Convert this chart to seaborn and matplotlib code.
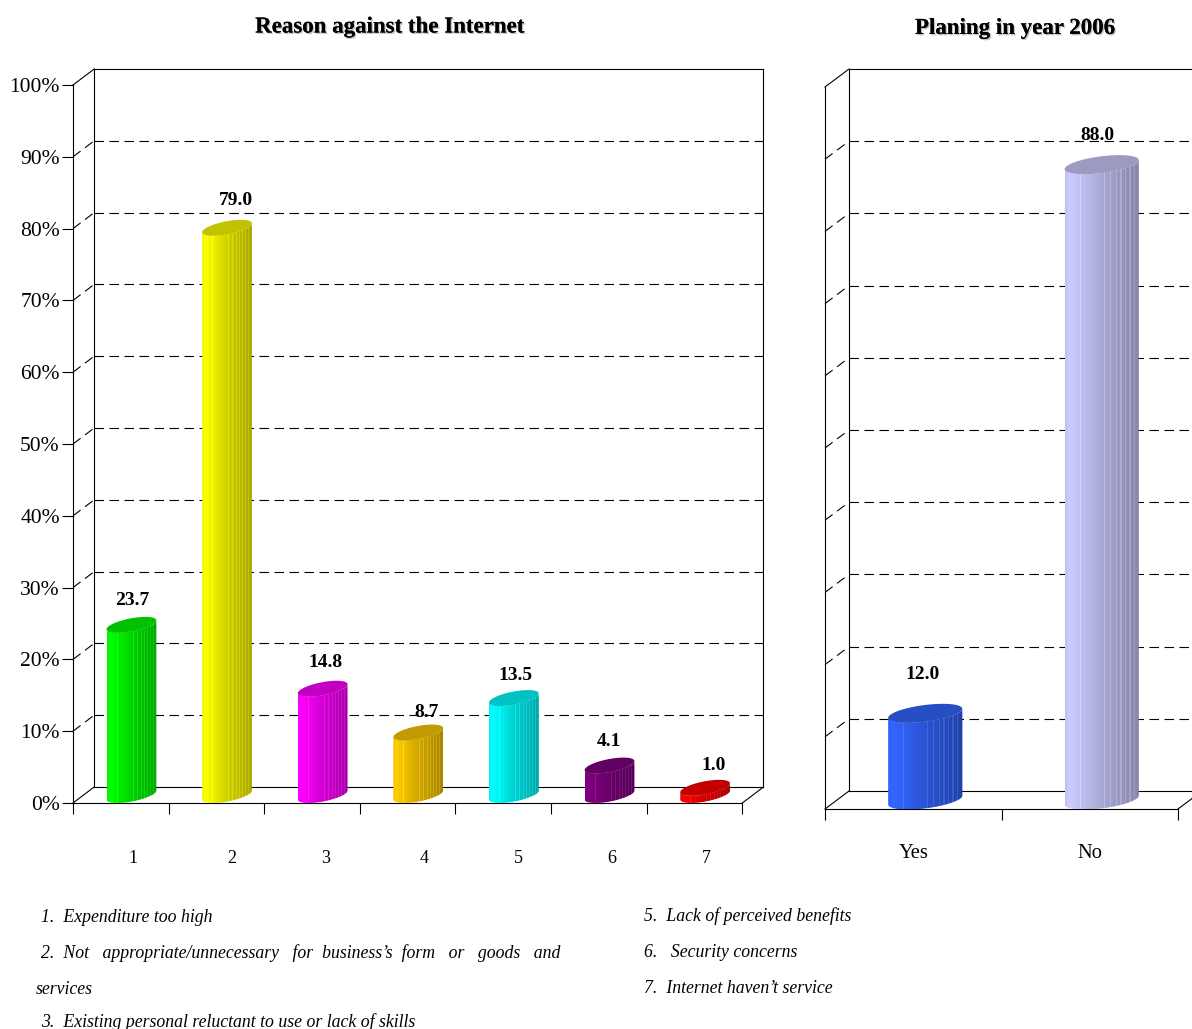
import numpy as np
import matplotlib
matplotlib.use("Agg")
import matplotlib.pyplot as plt
import matplotlib.patheffects as pe
from matplotlib.path import Path
from matplotlib.patches import PathPatch
from matplotlib.transforms import ScaledTranslation
from matplotlib.colors import to_rgb
import pandas as pd
import seaborn as sns

# ---- data ----
reason_codes = ["1", "2", "3", "4", "5", "6", "7"]
reason_values = [23.7, 79.0, 14.8, 8.7, 13.5, 4.1, 1.0]
reason_colors = ["#00ff00", "#ffff00", "#ff00ff", "#ffcc00", "#00ffff", "#800080", "#ff0000"]
plan_codes = ["Yes", "No"]
plan_values = [12.0, 88.0]
plan_colors = ["#3366ff", "#ccccff"]
percent_ticks = [0, 10, 20, 30, 40, 50, 60, 70, 80, 90, 100]
title_reason = "Reason against the Internet"
title_plan = "Planing in year 2006"
notes_left = [
    "1.  Expenditure too high",
    "2.  Not   appropriate/unnecessary   for  business\u2019s  form   or   goods   and",
    "services",
    "3.  Existing personal reluctant to use or lack of skills",
]
notes_right = [
    "5.  Lack of perceived benefits",
    "6.   Security concerns",
    "7.  Internet haven\u2019t service",
]

# ---- layout (pixels of the 1192x1029 canvas) ----
W, H = 1192, 1029
sns.set_style("white")
plt.rcParams["font.family"] = ["Liberation Serif", "DejaVu Serif"]
plt.rcParams["text.color"] = "black"
plt.rcParams["xtick.labelcolor"] = "black"
plt.rcParams["ytick.labelcolor"] = "black"
fig = plt.figure(figsize=(W / 100, H / 100), dpi=100, facecolor="white")
LW = 0.8


def make_axes(left, right, bottom, top):
    return fig.add_axes([left / W, 1 - bottom / H, (right - left) / W, (bottom - top) / H])


def shift(dx, dy):
    return ScaledTranslation(dx / 100, dy / 100, fig.dpi_scale_trans)


def panel(ax, codes, values, colors, depth, half_h, skew, bar_w, lab_nudge,
          code_nudge, code_pad, code_size, title, title_xy, show_y):
    n = len(codes)
    xmin, xmax = -0.5, n - 0.5
    frame = pd.DataFrame({"code": codes, "value": values})
    sns.barplot(data=frame, x="code", y="value", hue="code", palette=dict(zip(codes, colors)),
                order=codes, hue_order=codes, width=bar_w, legend=False, ax=ax, saturation=1)
    box = ax.get_position()
    ppx = box.width * W / (xmax - xmin)
    ppy = box.height * H / 100
    dxu, dyu = depth[0] / ppx, depth[1] / ppy
    ln = dict(color="black", lw=LW, clip_on=False, solid_capstyle="projecting")
    dash = (0, (9.5 * 0.72 / LW, 5.5 * 0.72 / LW))

    # back wall, floor and side wall
    for v in percent_ticks[1:-1]:
        ax.plot([xmin + dxu, xmax + dxu], [v + dyu] * 2, color="black", lw=LW, ls=dash, clip_on=False, zorder=1)
        ax.plot([xmin, xmin + dxu], [v, v + dyu], color="black", lw=LW, ls=dash, clip_on=False, zorder=1)
    ax.plot([xmin + dxu, xmax + dxu], [100 + dyu] * 2, zorder=1, **ln)
    ax.plot([xmin + dxu, xmax + dxu], [dyu, dyu], zorder=1, **ln)
    ax.plot([xmin + dxu] * 2, [dyu, 100 + dyu], zorder=1, **ln)
    ax.plot([xmax + dxu] * 2, [dyu, 100 + dyu], zorder=1, **ln)
    ax.plot([xmin, xmin + dxu], [0, dyu], zorder=1, **ln)
    ax.plot([xmin, xmin + dxu], [100, 100 + dyu], zorder=1, **ln)
    ax.plot([xmax, xmax + dxu], [0, dyu], zorder=1, **ln)

    # cylinders are placed half way into the depth of the box
    mid = ax.transData + shift(depth[0] / 2, depth[1] / 2)
    t = np.linspace(0, np.pi, 60)
    stripes = np.array([0, 0, 0, 0, 0, 0, 0, 0, 0, 0, 1, 0, 0, 0, 0, 0, 0, 0, 0, 0, 0, 0, 0, 0, 0,
                        0, 1, 0, 0, 0, 1, 0, 0, 0, 1, 0, 0, 1, 0, 0, 1, 0, 0, 1, 0, 0, 1, 0, 0, 0])
    shade = np.interp(np.linspace(0, 1, 50), [0, 0.05, 0.25, 0.5, 1], [0.95, 1.0, 0.93, 0.82, 0.66])
    for bar, value, col in zip(ax.patches, values, colors):
        xc = bar.get_x() + bar.get_width() / 2
        a = bar.get_width() / 2
        b = half_h / ppy
        s = skew / ppy
        # top rim runs left -> right over the upper half; base rim left -> right over the lower half
        top_x, top_y = xc - a * np.cos(t), value - s * np.cos(t) + b * np.sin(t)
        low_x, low_y = xc - a * np.cos(t), -s * np.cos(t) - b * np.sin(t)
        rim_x, rim_y = xc - a * np.cos(t), value - s * np.cos(t) - b * np.sin(t)
        body_x = np.r_[low_x, rim_x[::-1]]
        body_y = np.r_[low_y, rim_y[::-1]]
        body = PathPatch(Path(np.c_[body_x, body_y]), fc="none", ec="none", transform=mid, clip_on=False)
        ax.add_patch(body)
        bar.set_transform(mid)
        bar.set_clip_path(body)
        rgb = np.array(to_rgb(col))
        img = shade[None, :, None] * rgb[None, None, :]
        img = np.clip(img + 0.08 * stripes[None, :, None], 0, 1)
        im = ax.imshow(img, extent=(xc - a, xc + a, low_y.min() - 1, value + s + b),
                       aspect="auto", interpolation="nearest", zorder=3, transform=mid)
        im.set_clip_path(body)
        ax.fill(np.r_[top_x, rim_x[::-1]], np.r_[top_y, rim_y[::-1]], color=rgb * 0.76, lw=0,
                zorder=4, transform=mid, clip_on=False)

    for i, (value, nudge) in enumerate(zip(values, lab_nudge)):
        ax.annotate(f"{value:.1f}", xy=(i, value), xycoords=mid, xytext=nudge,
                    textcoords="offset pixels", ha="center", va="center",
                    fontsize=14, fontweight="bold", color="black", zorder=6, annotation_clip=False)

    # axes
    ax.set_xlim(xmin, xmax)
    ax.set_ylim(0, 100)
    ax.set_xlabel("")
    ax.set_ylabel("")
    sns.despine(ax=ax)
    for side in ("left", "bottom"):
        ax.spines[side].set_color("black")
        ax.spines[side].set_linewidth(LW)
    ax.set_xticks(np.arange(xmin, xmax + 1), labels=[""] * (n + 1))
    ax.set_xticks(range(n), labels=codes, minor=True)
    ax.tick_params(axis="x", which="major", direction="out", length=8, width=LW, color="black", bottom=True)
    ax.tick_params(axis="x", which="minor", length=0, pad=code_pad, labelsize=code_size, bottom=True)
    for tick, dx in zip(ax.xaxis.get_minor_ticks(), code_nudge):
        tick.label1.set_transform(tick.label1.get_transform() + shift(dx, 0))
    if show_y:
        ax.set_yticks(percent_ticks, labels=[f"{v}%" for v in percent_ticks])
        ax.tick_params(axis="y", direction="out", length=8, width=LW, color="black", left=True,
                       pad=1.5, labelsize=15.5)
    else:
        ax.set_yticks([])
    ax.set_title(title, x=title_xy[0], y=title_xy[1], fontsize=16.5, fontweight="bold", color="black",
                 path_effects=[pe.withSimplePatchShadow(offset=(1.0, -1.0), shadow_rgbFace="#777777", alpha=0.45),
                               pe.Normal()])
    ax.patch.set_alpha(0)


ax1 = make_axes(73, 742.3, 803, 85)
ax2 = make_axes(825, 1178, 809, 87)

panel(ax1, reason_codes, reason_values, reason_colors, depth=(21.2, 16), half_h=6.6, skew=4.5, bar_w=0.52,
      lab_nudge=[(1, 24), (9, 27), (3, 26), (8, 20), (2, 23), (-1, 24), (9, 22)],
      code_nudge=[12.5, 15.5, 14, 16, 15.5, 13, 12], code_pad=34, code_size=13,
      title=title_reason, title_xy=(0.473, 1.0615), show_y=True)
panel(ax2, plan_codes, plan_values, plan_colors, depth=(24, 18), half_h=8.4, skew=4.5, bar_w=0.42,
      lab_nudge=[(-3, 39), (-4, 29)],
      code_nudge=[0, 0], code_pad=25, code_size=14.8,
      title=title_plan, title_xy=(0.538, 1.062), show_y=False)

# explanatory notes
for txt, x, y in zip(notes_left, [41, 41, 36, 41], [917, 953, 989, 1022]):
    fig.text(x / W, 1 - y / H, txt, fontsize=12.8, fontstyle="italic", va="center", ha="left")
for txt, y in zip(notes_right, [916.5, 952.5, 988.5]):
    fig.text(644 / W, 1 - y / H, txt, fontsize=12.8, fontstyle="italic", va="center", ha="left")

fig.savefig("out.png", dpi=100, facecolor="white")
